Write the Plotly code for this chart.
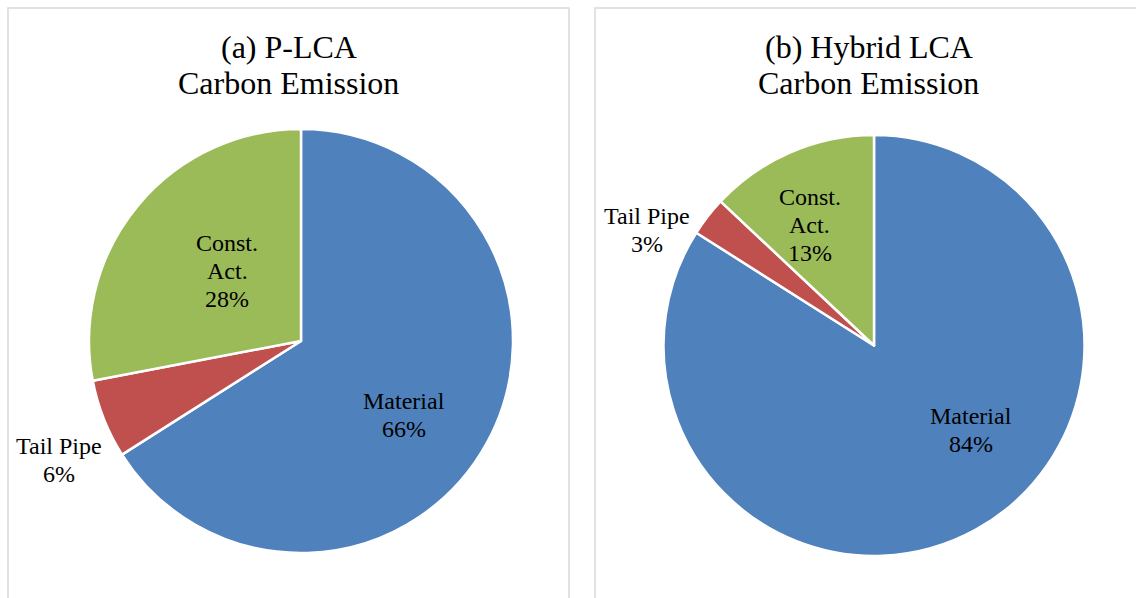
import math
import plotly.graph_objects as go

W, H = 1136, 598

# Carbon emission shares by source
categories = ["Material", "Tail Pipe", "Const.<br>Act."]
plca_values = [66, 6, 28]
hybrid_values = [84, 3, 13]
titles = [("(a) P-LCA", "Carbon Emission"), ("(b) Hybrid LCA", "Carbon Emission")]

colors = ["#4F81BD", "#C0504D", "#9BBB59"]
serif = "Liberation Serif"
LABEL_SIZE, LABEL_STEP = 24, 28
TITLE_SIZE, TITLE_STEP = 32, 36


def px_x(v):
    return v / W


def px_y(v):
    return 1 - v / H


def text_block(lines, x, y_center, size, step):
    """One annotation per line so the line spacing can be set explicitly."""
    out = []
    n = len(lines)
    for i, line in enumerate(lines):
        yc = y_center + (i - (n - 1) / 2) * step
        out.append(dict(text=line, x=px_x(x), y=px_y(yc), xref="paper", yref="paper",
                        showarrow=False, xanchor="center", yanchor="middle",
                        font=dict(family=serif, size=size, color="black")))
    return out


fig = go.Figure()

# pie boxes in pixel space: (left, right, top, bottom)
domains = [(89, 513, 129, 553), (663, 1085, 135, 556)]
# label placement per slice: (angle nudge in degrees, radius as fraction of pie radius)
label_place = [
    [(7, 0.60), (-4.6, 1.27), (3.8, 0.48)],
    [(-20, 0.61), (-10.8, 1.21), (-4.6, 0.65)],
]

annotations = []
for vals, (l, r, t, b), places in zip([plca_values, hybrid_values], domains, label_place):
    fig.add_trace(go.Pie(
        labels=categories,
        values=vals,
        sort=False,
        direction="clockwise",
        rotation=0,
        marker=dict(colors=colors, line=dict(color="white", width=2.5)),
        textinfo="none",
        domain=dict(x=[px_x(l), px_x(r)], y=[px_y(b), px_y(t)]),
        showlegend=False,
        hoverinfo="label+percent",
    ))
    # slice labels at each slice's mid-angle (clockwise from 12 o'clock)
    cx, cy = (l + r) / 2, (t + b) / 2
    rad = min(r - l, b - t) / 2
    total = sum(vals)
    start = 0.0
    for name, v, (nudge, frac) in zip(categories, vals, places):
        mid = (start + v / 2) / total * 360 + nudge
        start += v
        x = cx + frac * rad * math.sin(math.radians(mid))
        y = cy - frac * rad * math.cos(math.radians(mid))
        lines = name.split("<br>") + [f"{round(v / total * 100)}%"]
        annotations += text_block(lines, x, y, LABEL_SIZE, LABEL_STEP)

# panel frames
panels = [(8, 569), (595, 1142)]
shapes = []
for x0, x1 in panels:
    shapes.append(dict(type="rect", xref="paper", yref="paper",
                       x0=px_x(x0), x1=px_x(x1), y0=-0.05, y1=px_y(8),
                       line=dict(color="#D9D9D9", width=1.5), fillcolor="rgba(0,0,0,0)",
                       layer="below"))

for (x0, x1), title_lines in zip(panels, titles):
    annotations += text_block(list(title_lines), (x0 + x1) / 2, 65, TITLE_SIZE, TITLE_STEP)

fig.update_layout(
    width=W, height=H,
    margin=dict(l=0, r=0, t=0, b=0),
    paper_bgcolor="white",
    plot_bgcolor="white",
    shapes=shapes,
    annotations=annotations,
)

fig.write_html("out.html")
